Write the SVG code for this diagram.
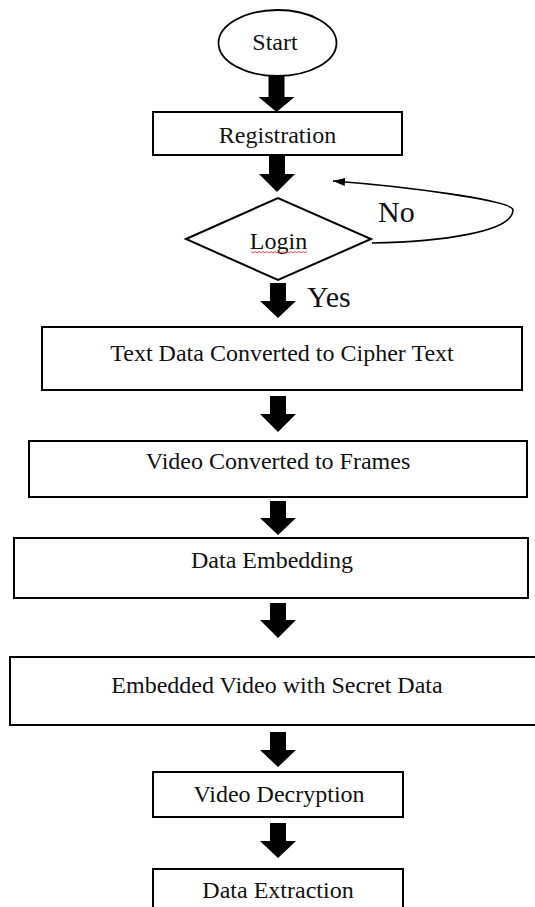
<svg xmlns="http://www.w3.org/2000/svg" width="535" height="907" viewBox="0 0 535 907">
<defs>
<style>
.box{fill:#fff;stroke:#000;stroke-width:2}
.lbl{font-family:"Liberation Serif","Times New Roman",serif;font-size:24px;fill:#111;text-anchor:middle}
.big{font-family:"Liberation Serif","Times New Roman",serif;font-size:30px;fill:#111}
.blk{fill:#000}
</style>
<marker id="ah" markerWidth="12" markerHeight="8" refX="12" refY="4" orient="auto" markerUnits="userSpaceOnUse">
<path d="M0,0 L12,4 L0,8 Z" fill="#000"/>
</marker>
</defs>
<rect width="535" height="907" fill="#fff"/>

<g id="connectors">
<polygon class="blk" points="268.5,76 284.5,76 284.5,97 294.5,97 276.5,112 258.5,97 268.5,97"/>
<polygon class="blk" points="269,156 285,156 285,174 295,174 277,192 259,174 269,174"/>
<polygon class="blk" points="270,283 286,283 286,301 296,301 278,318 260,301 270,301"/>
<polygon class="blk" points="270,396 286,396 286,414 296,414 278,432 260,414 270,414"/>
<polygon class="blk" points="270,501 286,501 286,518 296,518 278,535 260,518 270,518"/>
<polygon class="blk" points="270,603 286,603 286,620 296,620 278,638 260,620 270,620"/>
<polygon class="blk" points="270,732 286,732 286,750 296,750 278,767 260,750 270,750"/>
<polygon class="blk" points="270,823 286,823 286,841 296,841 278,858 260,841 270,841"/>
<path d="M372,243 C440,242 513,232 513,210 C513,200 400,186 333,181" fill="none" stroke="#000" stroke-width="1.6" marker-end="url(#ah)"/>
<text class="big" x="378" y="222">No</text>
<text class="big" x="307" y="307">Yes</text>
</g>

<g id="start">
<ellipse cx="277.5" cy="43" rx="59" ry="33" fill="#fff" stroke="#000" stroke-width="1.8"/>
<text class="lbl" x="275" y="50">Start</text>
</g>

<g id="registration">
<rect class="box" x="153" y="112" width="249" height="43"/>
<text class="lbl" x="277.5" y="143">Registration</text>
</g>

<g id="login">
<polygon points="186,239 278,198 371,239 278,280" fill="#fff" stroke="#000" stroke-width="2"/>
<text class="lbl" x="278.5" y="249">Login</text>
<path d="M251,251.5 l2,1.5 l2,-1.5 l2,1.5 l2,-1.5 l2,1.5 l2,-1.5 l2,1.5 l2,-1.5 l2,1.5 l2,-1.5 l2,1.5 l2,-1.5 l2,1.5 l2,-1.5 l2,1.5 l2,-1.5 l2,1.5 l2,-1.5 l2,1.5 l2,-1.5 l2,1.5 l2,-1.5 l2,1.5 l2,-1.5 l2,1.5 l2,-1.5 l2,1.5 l2,-1.5" fill="none" stroke="#e02020" stroke-width="0.8"/>
</g>

<g id="cipher">
<rect class="box" x="42" y="327" width="480" height="63"/>
<text class="lbl" x="282" y="361">Text Data Converted to Cipher Text</text>
</g>

<g id="frames">
<rect class="box" x="29" y="441" width="498" height="56"/>
<text class="lbl" x="278" y="469">Video Converted to Frames</text>
</g>

<g id="embedding">
<rect class="box" x="14" y="538" width="514" height="60"/>
<text class="lbl" x="272" y="568">Data Embedding</text>
</g>

<g id="embedded-video">
<rect class="box" x="10" y="657" width="540" height="68"/>
<text class="lbl" x="277" y="693">Embedded Video with Secret Data</text>
</g>

<g id="decryption">
<rect class="box" x="153" y="772" width="250" height="45"/>
<text class="lbl" x="279" y="802">Video Decryption</text>
</g>

<g id="extraction">
<rect class="box" x="153" y="869" width="250" height="60"/>
<text class="lbl" x="278" y="898">Data Extraction</text>
</g>
</svg>
